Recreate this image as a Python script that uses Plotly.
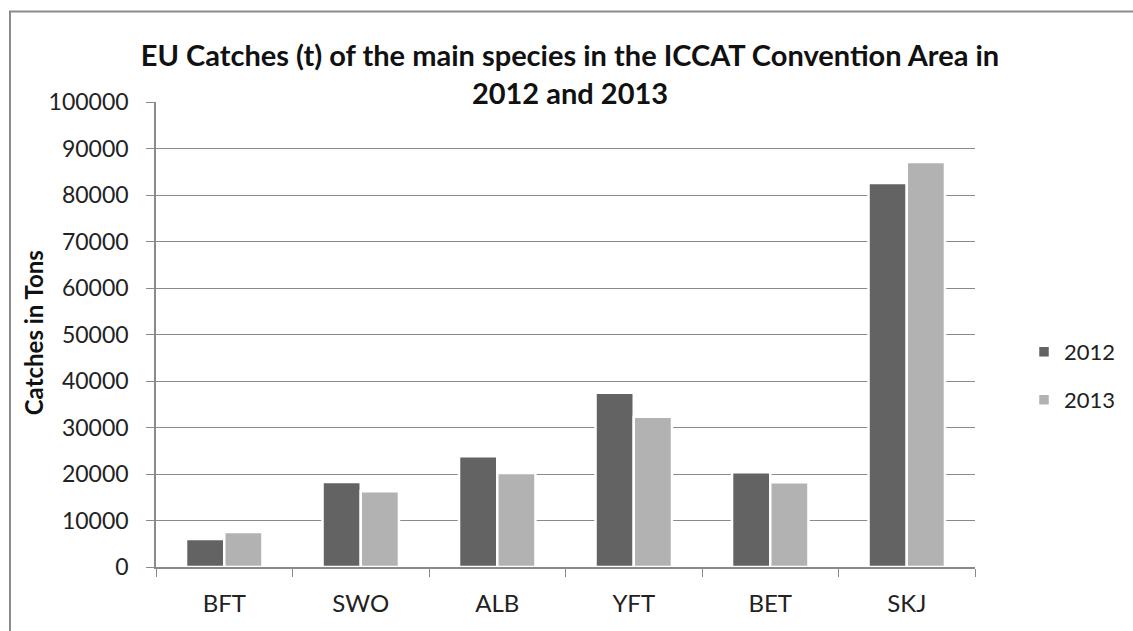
import plotly.graph_objects as go

species = ["BFT", "SWO", "ALB", "YFT", "BET", "SKJ"]
catches_2012 = [6000, 18300, 23800, 37500, 20400, 82600]
catches_2013 = [7500, 16300, 20200, 32300, 18200, 87100]
y_ticks = list(range(0, 100001, 10000))
y_tick_text = [str(v) for v in y_ticks]

W, H = 1133, 631
FONT = "Lato"
PLOT_L, PLOT_R, PLOT_T, PLOT_B = 156, 975, 101.5, 567
PW, PH = PLOT_R - PLOT_L, PLOT_B - PLOT_T


def px_x(x):
    return (x - PLOT_L) / PW


def px_y(y):
    return (PLOT_B - y) / PH


fig = go.Figure()
fig.add_trace(go.Bar(
    name="2012", x=species, y=catches_2012, legend="legend", showlegend=True,
    marker=dict(color="#636363", line=dict(color="#ffffff", width=2.5)),
))
fig.add_trace(go.Bar(
    name="2013", x=species, y=catches_2013, legend="legend2", showlegend=True,
    marker=dict(color="#b2b2b2", line=dict(color="#ffffff", width=2.5)),
))

# outer chart frame (only top and left edges fall inside the page)
fig.add_shape(
    type="rect", xref="paper", yref="paper",
    x0=px_x(10), x1=px_x(1150), y0=px_y(650), y1=px_y(11),
    line=dict(color="#8a8a8a", width=2), fillcolor="rgba(0,0,0,0)",
    layer="below",
)

# vertical axis title
fig.add_annotation(
    text="<b>Catches in Tons</b>", textangle=-90,
    xref="paper", yref="paper", x=px_x(33), y=px_y(333),
    xanchor="center", yanchor="middle", showarrow=False,
    font=dict(family=FONT, size=24, color="#111111"),
)

legend_style = dict(
    x=1024 / W, xref="container", xanchor="left",
    yref="container", yanchor="top",
    font=dict(size=22, color="#222222"),
    itemwidth=30, bgcolor="rgba(0,0,0,0)",
)

fig.update_layout(
    width=W, height=H,
    showlegend=True,
    margin=dict(l=PLOT_L, r=W - PLOT_R, t=PLOT_T, b=H - PLOT_B),
    paper_bgcolor="white", plot_bgcolor="white",
    barmode="group", bargap=0.44, bargroupgap=0,
    font=dict(family=FONT, color="#222222"),
    title=dict(
        text="EU Catches (t) of the main species in the ICCAT Convention Area in<br>2012 and 2013",
        x=570 / W, xanchor="center", xref="container",
        y=1 - 66 / H, yanchor="top", yref="container",
        font=dict(family=FONT, size=29, color="#111111", weight="bold"),
    ),
    legend=dict(legend_style, y=1 - 331 / H),
    legend2=dict(legend_style, y=1 - 379 / H),
    xaxis=dict(
        showline=True, linecolor="#8a8a8a", linewidth=1.5,
        ticks="outside", tickson="boundaries", ticklen=8, tickcolor="#8a8a8a",
        tickfont=dict(size=24, color="#222222"),
        ticklabelstandoff=14,
        showgrid=False,
    ),
    yaxis=dict(
        range=[0, 100000], tickvals=y_ticks, ticktext=y_tick_text,
        showline=True, linecolor="#8a8a8a", linewidth=1.5,
        ticks="outside", ticklen=8, tickcolor="#8a8a8a",
        showgrid=True, gridcolor="#8a8a8a", gridwidth=1.2,
        zeroline=False,
        tickfont=dict(size=23, color="#222222"),
        ticklabelstandoff=13,
    ),
)

fig.write_html("out.html")
